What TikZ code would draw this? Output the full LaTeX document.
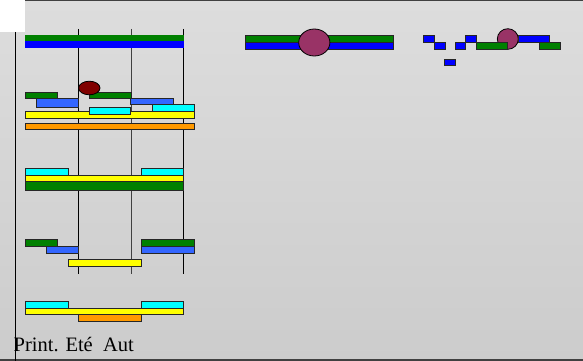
\documentclass[tikz,border=0pt]{standalone}
\usepackage{fontspec}
\setmainfont{Liberation Serif}
\definecolor{bgtop}{RGB}{221,221,221}
\definecolor{bgbot}{RGB}{204,204,204}
\definecolor{cgreen}{RGB}{0,128,0}
\definecolor{cblue}{RGB}{0,0,255}
\definecolor{croyal}{RGB}{51,102,255}
\definecolor{ccyan}{RGB}{0,255,255}
\definecolor{cyellow}{RGB}{255,255,0}
\definecolor{corange}{RGB}{255,153,0}
\definecolor{cdarkred}{RGB}{128,0,0}
\definecolor{cmagenta}{RGB}{153,51,102}
\definecolor{cframe}{RGB}{64,64,64}
\begin{document}
\begin{tikzpicture}[x=1pt,y=-1pt,
  bar/.style={draw=black!85,line width=0.8pt},
  plainbar/.style={draw=none},
  grid/.style={draw=black,line width=1pt},
  blob/.style={draw=black,line width=0.8pt}]
\useasboundingbox (0,0) rectangle (583,361);
% background
\shade[top color=bgtop,bottom color=bgbot] (0,0) rectangle (583,361);
\fill[white] (0,0) rectangle (25,32);
\draw[cframe,line width=1.5pt] (25,0.75) -- (583,0.75);
\draw[cframe,line width=1.5pt] (0,360.2) -- (583,360.2);
\draw[black,line width=1.2pt] (15.5,32) -- (15.5,361);
% grid lines
\draw[grid] (78.5,29) -- (78.5,274);
\draw[grid,black!75] (131,29) -- (131,274);
\draw[grid] (183,29) -- (183,274);
% top bars
\fill[cgreen] (25,35) rectangle (184,41);
\fill[cblue] (25,41) rectangle (184,48.5);
% row 2
\filldraw[bar,fill=cgreen] (25.7,92) rectangle (57.7,98.7);
\filldraw[bar,fill=croyal] (36.7,98.7) rectangle (78.3,107.3);
\filldraw[bar,fill=cgreen] (89,92) rectangle (131,98.7);
\filldraw[blob,fill=cdarkred] (89.3,88) ellipse (10.7 and 6.8);
\filldraw[bar,fill=croyal] (130.7,98) rectangle (173.3,104.7);
\filldraw[bar,fill=ccyan] (152,104.7) rectangle (194.3,111.3);
\filldraw[bar,fill=cyellow] (25.7,111.3) rectangle (194.3,118);
\filldraw[bar,fill=ccyan] (89,107.3) rectangle (130.7,114);
\filldraw[bar,fill=corange] (25.7,123) rectangle (194.3,129.7);
% row 3
\filldraw[bar,fill=ccyan] (25.7,168) rectangle (68.3,175);
\filldraw[bar,fill=ccyan] (141.3,168) rectangle (183.3,175);
\filldraw[bar,fill=cyellow] (25.7,175) rectangle (183.3,181.3);
\filldraw[bar,fill=cgreen] (25.7,181.3) rectangle (183.3,190.7);
% row 4
\filldraw[bar,fill=cgreen] (25.7,239.7) rectangle (57.7,246.3);
\filldraw[bar,fill=croyal] (46.7,246.3) rectangle (78.3,253);
\filldraw[bar,fill=cgreen] (141.3,239.7) rectangle (194.3,246.3);
\filldraw[bar,fill=croyal] (141.3,246.3) rectangle (194.3,253);
\filldraw[bar,fill=cyellow] (68.3,259.3) rectangle (141.7,266);
% row 5
\filldraw[bar,fill=ccyan] (25.7,301.7) rectangle (68.3,308.7);
\filldraw[bar,fill=ccyan] (141.3,301.7) rectangle (183.3,308.7);
\filldraw[bar,fill=corange] (78.3,314.7) rectangle (141.7,321.7);
\filldraw[bar,fill=cyellow] (25.7,308.7) rectangle (183.3,314.7);
% top middle group
\filldraw[bar,fill=cgreen] (245.7,35.7) rectangle (393.3,42.3);
\filldraw[bar,fill=cblue] (245.7,42.3) rectangle (393.3,49);
\filldraw[blob,fill=cmagenta] (314.3,42.5) ellipse (15.6 and 13.5);
% top right group
\filldraw[blob,fill=cmagenta] (507.8,39) ellipse (10.5 and 10.3);
\filldraw[bar,fill=cblue] (423.7,35.3) rectangle (434.7,42.3);
\filldraw[bar,fill=cblue] (434.3,42.3) rectangle (445.3,49);
\filldraw[bar,fill=cblue] (444.7,59) rectangle (455.7,65.7);
\filldraw[bar,fill=cblue] (455.3,42.3) rectangle (465.7,49);
\filldraw[bar,fill=cblue] (465.7,35.3) rectangle (476.7,42.3);
\filldraw[bar,fill=cgreen] (476.3,42.3) rectangle (507.7,49);
\filldraw[bar,fill=cblue] (518,35.3) rectangle (549.7,42.3);
\filldraw[bar,fill=cgreen] (539.3,42.3) rectangle (560.7,49);
% label
\node[anchor=base west,inner sep=0pt,font=\fontsize{20.5}{24}\selectfont] (lbl) at (13.5,351.5) {Print. Eté\ \ Aut};
\end{tikzpicture}
\end{document}
